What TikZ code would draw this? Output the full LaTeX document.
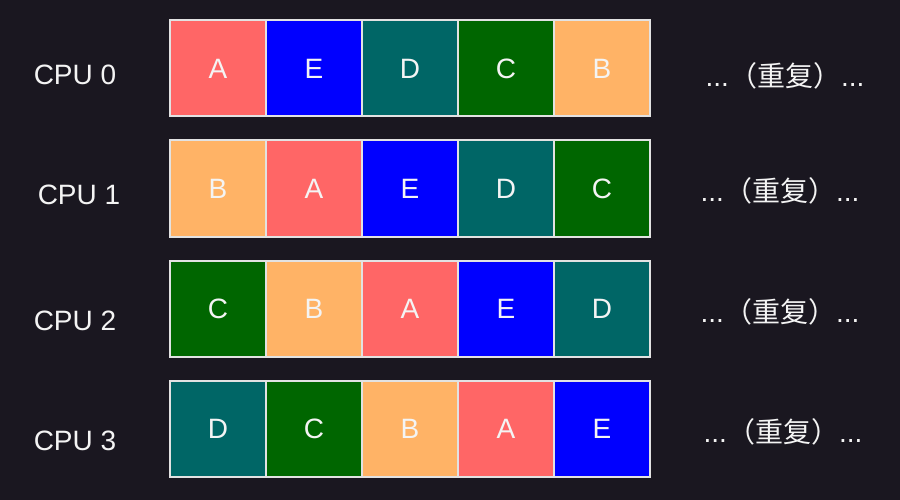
\documentclass[tikz,border=0pt]{standalone}
\usepackage{fontspec}
\setmainfont{Liberation Sans}
\newfontfamily\cjkfont{Noto Sans CJK SC}
\usepackage{tikz}
\usetikzlibrary{positioning}
\definecolor{schedBg}{HTML}{1A1720}
\definecolor{schedEdge}{HTML}{E2E2E2}
\definecolor{schedText}{HTML}{F4F4F4}
\definecolor{taskA}{HTML}{FF6666}
\definecolor{taskB}{HTML}{FFB366}
\definecolor{taskC}{HTML}{006600}
\definecolor{taskD}{HTML}{006666}
\definecolor{taskE}{HTML}{0000FF}
\tikzset{
  slot/.style={draw=schedEdge, line width=2pt, minimum size=96pt,
    inner sep=0pt, text=schedText, font=\fontsize{28}{32}\selectfont},
  cpu label/.style={text=schedText, inner sep=0pt,
    font=\fontsize{28}{32}\selectfont},
  repeat label/.style={text=schedText, inner sep=0pt,
    font=\fontsize{28}{32}\selectfont}
}

\begin{document}
\begin{tikzpicture}[x=1pt, y=-1pt]
  \fill[schedBg] (0,0) rectangle (900,500);
  \useasboundingbox (0,0) rectangle (900,500);

  % one row of time slots per CPU
  \foreach \r/\seq in {0/{A,E,D,C,B}, 1/{B,A,E,D,C},
                       2/{C,B,A,E,D}, 3/{D,C,B,A,E}} {
    \foreach \t [count=\i from 0] in \seq
      \node[slot, fill=task\t] (s\r\i) at ({218+96*\i},{68.5+120*\r}) {\t};
  }

  \node[cpu label] (cpu0) at (75,75) {CPU 0};
  \node[cpu label] (cpu1) at (79,195) {CPU 1};
  \node[cpu label] (cpu2) at (75,321) {CPU 2};
  \node[cpu label] (cpu3) at (75,441) {CPU 3};

  \node[repeat label] (rep0) at (785,76) {...{\cjkfont （重复）}...};
  \node[repeat label] (rep1) at (780,191) {...{\cjkfont （重复）}...};
  \node[repeat label] (rep2) at (780,312) {...{\cjkfont （重复）}...};
  \node[repeat label] (rep3) at (783,432) {...{\cjkfont （重复）}...};
\end{tikzpicture}
\end{document}
